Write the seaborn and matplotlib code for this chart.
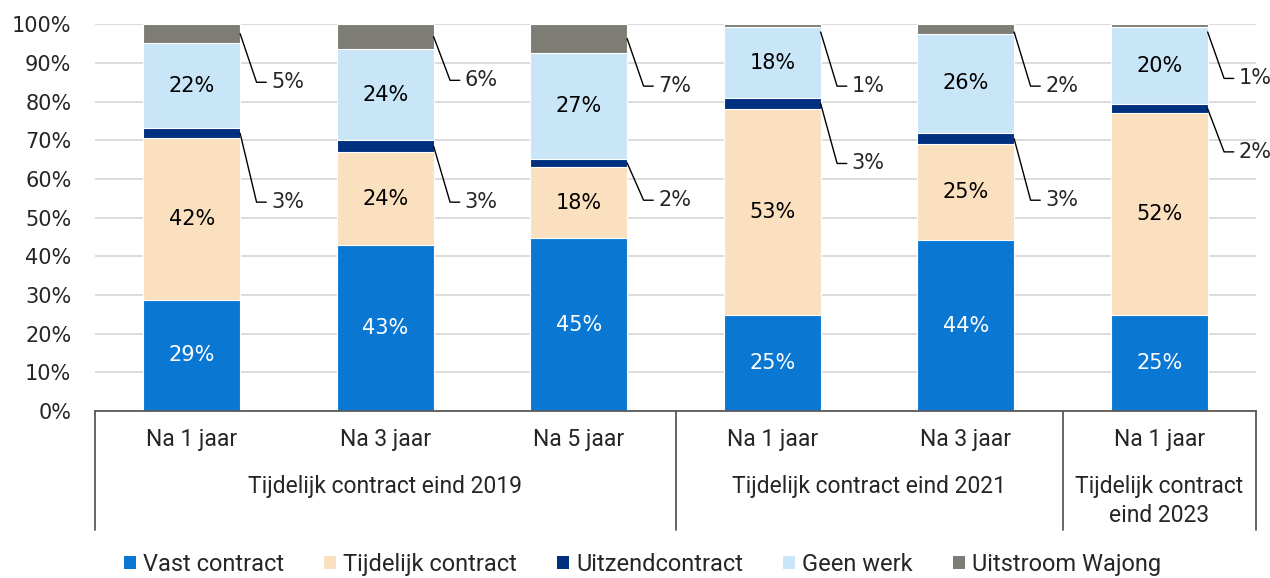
"""Stacked share chart: arbeidsmarktpositie na tijdelijk contract."""

import matplotlib.pyplot as plt
import matplotlib.transforms as mtransforms
import numpy as np
import pandas as pd
import seaborn as sns
from matplotlib.patches import Patch

# ─── Data ─────────────────────────────────────────────────────────────────────

periods = ["Na 1 jaar", "Na 3 jaar", "Na 5 jaar", "Na 1 jaar", "Na 3 jaar", "Na 1 jaar"]
groups = ["Tijdelijk contract eind 2019", "Tijdelijk contract eind 2021",
          "Tijdelijk contract\neind 2023"]
group_sizes = [3, 2, 1]

vast = [28.7, 42.9, 44.7, 24.8, 44.2, 24.8]
tijdelijk = [41.8, 24.0, 18.4, 53.3, 24.8, 52.2]
uitzend = [2.6, 3.1, 2.1, 2.8, 2.8, 2.3]
geen_werk = [22.0, 23.6, 27.4, 18.3, 25.8, 19.9]
wajong = [4.9, 6.4, 7.4, 0.8, 2.4, 0.8]

series_names = ["Vast contract", "Tijdelijk contract", "Uitzendcontract",
                "Geen werk", "Uitstroom Wajong"]
colors = ["#0A78D2", "#FBE0BF", "#00307F", "#C8E6F7", "#7D7D76"]

# ─── Plot ─────────────────────────────────────────────────────────────────────

sns.set_theme(style="white")
plt.rcParams["font.family"] = ["DejaVu Sans"]

fig = plt.figure(figsize=(12.7, 5.78), dpi=100)
ax = fig.add_axes([0.0748, 0.289, 0.9142, 0.669])

values = np.array([vast, tijdelijk, uitzend, geen_werk, wajong])
cum = values.cumsum(axis=0)
keys = [f"k{i}" for i in range(len(periods))]

# draw cumulative totals from top to bottom so each layer covers the next
for i in range(len(series_names) - 1, -1, -1):
    df = pd.DataFrame({"key": keys, "value": cum[i]})
    sns.barplot(data=df, x="key", y="value", order=keys, color=colors[i],
                width=0.5, edgecolor="white", linewidth=0.8, saturation=1,
                ax=ax)

ax.set_xlim(-0.5, len(periods) - 0.5)
ax.set_ylim(0, 100)
ax.set_yticks(np.arange(0, 101, 10))
ax.set_yticklabels([f"{v}%" for v in range(0, 101, 10)], fontsize=15)
ax.tick_params(axis="y", length=0, pad=17)
ax.set_xticks([])
ax.set_xlabel("")
ax.set_ylabel("")
ax.yaxis.grid(True, color="#D9D9D9", linewidth=1.3)
ax.set_axisbelow(True)
for side in ["left", "top", "right"]:
    ax.spines[side].set_visible(False)
ax.spines["bottom"].set_color("#595959")
ax.spines["bottom"].set_linewidth(1.3)

# labels inside segments
for j in range(len(periods)):
    ax.text(j, vast[j] / 2, f"{round(vast[j])}%", ha="center", va="center",
            color="white", fontsize=15)
    ax.text(j, cum[0][j] + tijdelijk[j] / 2, f"{round(tijdelijk[j])}%",
            ha="center", va="center", color="black", fontsize=15)
    ax.text(j, cum[2][j] + geen_werk[j] / 2, f"{round(geen_werk[j])}%",
            ha="center", va="center", color="black", fontsize=15)

# leader-line labels for the thin segments
wajong_label_y = [85, 85.5, 84, 84, 84, 86]
uitzend_label_y = [54, 54, 54.5, 64, 54.5, 67]
for j in range(len(periods)):
    for seg_i, seg_vals, lab_y in [(4, wajong, wajong_label_y),
                                   (2, uitzend, uitzend_label_y)]:
        mid = cum[seg_i][j] - seg_vals[j] / 2
        if seg_i == 4:
            mid = min(mid, 98)
        ax.plot([j + 0.25, j + 0.335, j + 0.385], [mid, lab_y[j], lab_y[j]],
                color="black", linewidth=1, clip_on=False)
        ax.text(j + 0.41, lab_y[j], f"{round(seg_vals[j])}%", ha="left",
                va="center", fontsize=15)

# multi-level category axis
trans = mtransforms.blended_transform_factory(ax.transData, ax.transAxes)
for j, p in enumerate(periods):
    ax.text(j, -0.075, p, transform=trans, ha="center", va="center",
            fontsize=16.5, family="Roboto")

edges = np.concatenate([[0], np.cumsum(group_sizes)]) - 0.5
for e in edges:
    ax.plot([e, e], [0, -0.307], transform=trans, color="#595959",
            linewidth=1.3, clip_on=False)
for g, (a, b) in zip(groups, zip(edges[:-1], edges[1:])):
    y = -0.195 if "\n" not in g else -0.232
    ax.text((a + b) / 2, y, g, transform=trans, ha="center", va="center",
            fontsize=16.5, family="Roboto", linespacing=1.35)

handles = [Patch(facecolor=c, edgecolor="none") for c in colors]
fig.legend(handles, series_names, loc="center", bbox_to_anchor=(0.506, 0.024),
           ncol=5, frameon=False, prop={"family": "Roboto", "size": 17},
           handlelength=0.5, handleheight=0.5, handletextpad=0.3,
           columnspacing=1.7, borderpad=0)

fig.savefig("out.png", dpi=100)
plt.close(fig)
